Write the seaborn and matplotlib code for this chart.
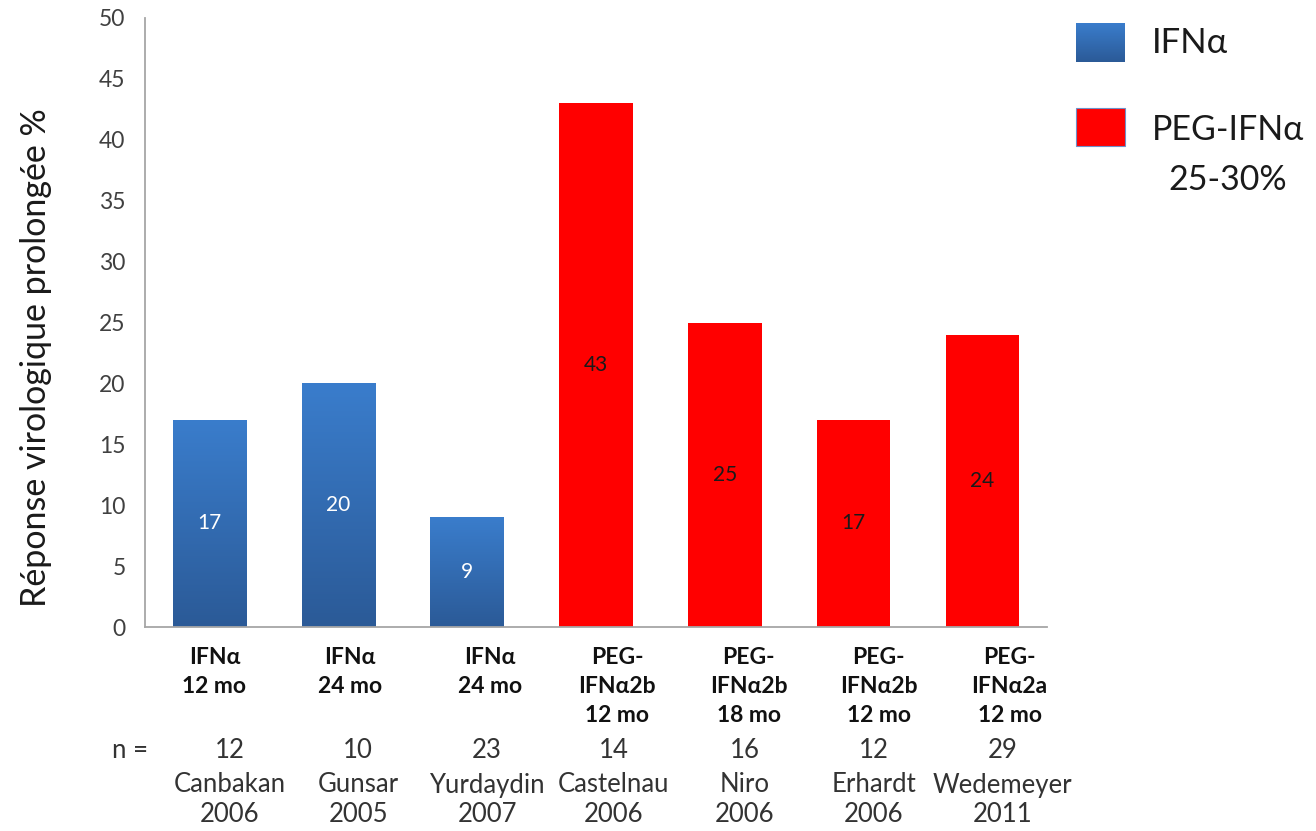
import numpy as np
import pandas as pd
import matplotlib
matplotlib.use("Agg")
import matplotlib.pyplot as plt
from matplotlib.patches import Rectangle
import seaborn as sns

# Study data
treatments = [
    ["IFNα", "12 mo"],
    ["IFNα", "24 mo"],
    ["IFNα", "24 mo"],
    ["PEG-", "IFNα2b", "12 mo"],
    ["PEG-", "IFNα2b", "18 mo"],
    ["PEG-", "IFNα2b", "12 mo"],
    ["PEG-", "IFNα2a", "12 mo"],
]
response = [17, 20, 9, 43, 25, 17, 24]
n_patients = [12, 10, 23, 14, 16, 12, 29]
authors = ["Canbakan", "Gunsar", "Yurdaydin", "Castelnau", "Niro", "Erhardt", "Wedemeyer"]
years = [2006, 2005, 2007, 2006, 2006, 2006, 2011]
groups = ["IFNα", "IFNα", "IFNα", "PEG-IFNα", "PEG-IFNα", "PEG-IFNα", "PEG-IFNα"]
yticks = list(range(0, 55, 5))

df = pd.DataFrame({"study": authors, "response": response, "group": groups})

sns.set_theme(style="white")
plt.rcParams["font.family"] = ["Lato", "DejaVu Sans"]

BLUE_TOP = "#3a7dcc"
BLUE_BOT = "#2b5a97"
RED = "#ff0000"

fig = plt.figure(figsize=(13.16, 8.31), dpi=100)
W, H = 1316, 831
ax = fig.add_axes([145 / W, 1 - 627 / H, (1047 - 145) / W, (627 - 18) / H])

sns.barplot(data=df, x="study", y="response", hue="group",
            palette={"IFNα": BLUE_BOT, "PEG-IFNα": RED},
            dodge=False, width=0.57, legend=False, saturation=1,
            ax=ax, linewidth=0)

ax.set_xlim(-0.5, 6.5)
ax.set_ylim(0, 50)
ax.set_yticks(yticks)
ax.set_yticklabels([str(t) for t in yticks], fontsize=16.5, color="#404040")
ax.tick_params(axis="y", length=0, pad=14)
ax.set_xticks([])
ax.set_xlabel("")
ax.set_ylabel("Réponse virologique prolongée %", fontsize=24.5, color="#1a1a1a")
ax.yaxis.set_label_coords(-(145 - 52) / (1047 - 145), (627 - 358) / (627 - 18))
for side in ["top", "right"]:
    ax.spines[side].set_visible(False)
for side in ["left", "bottom"]:
    ax.spines[side].set_color("#a6a6a6")
    ax.spines[side].set_linewidth(1.3)

# vertical gradient on the IFNα bars
grad = np.linspace(0, 1, 256).reshape(-1, 1)
cmap = matplotlib.colors.LinearSegmentedColormap.from_list("b", [BLUE_BOT, BLUE_TOP])
for patch in ax.patches:
    fc = matplotlib.colors.to_hex(patch.get_facecolor())
    if fc.lower() == BLUE_BOT:
        x0, y0 = patch.get_x(), patch.get_y()
        w, h = patch.get_width(), patch.get_height()
        im = ax.imshow(grad, extent=[x0, x0 + w, y0, y0 + h], origin="lower",
                       cmap=cmap, aspect="auto", zorder=patch.get_zorder() + 0.1)
        im.set_clip_path(patch)
ax.set_xlim(-0.5, 6.5)
ax.set_ylim(0, 50)

# value labels inside bars
for i, v in enumerate(response):
    col = "white" if groups[i] == "IFNα" else "#1a1a1a"
    ax.text(i, v / 2, str(v), ha="center", va="center", fontsize=15, color=col, zorder=5)

# category labels beneath the axis
trans = ax.get_xaxis_transform()
def yfrac(py):
    return -(py - 627) / (627 - 18)

treat_dx = [5, 12, 23, 21, 24, 25, 27]
for i, lines in enumerate(treatments):
    for j, line in enumerate(lines):
        ax.text(i + treat_dx[i] / 129, yfrac(657 + 29.5 * j), line, transform=trans,
                ha="center", va="center", fontsize=16.5, fontweight="bold",
                color="#111111", clip_on=False)

info_dx = [20, 20, 20, 18, 20, 20, 20]
for i in range(len(authors)):
    x = i + info_dx[i] / 129
    ax.text(x, yfrac(751), str(n_patients[i]), transform=trans, ha="center", va="center",
            fontsize=18.5, color="#333333", clip_on=False)
    ax.text(x, yfrac(785), authors[i], transform=trans, ha="center", va="center",
            fontsize=18.5, color="#333333", clip_on=False)
    ax.text(x, yfrac(815), str(years[i]), transform=trans, ha="center", va="center",
            fontsize=18.5, color="#333333", clip_on=False)
fig.text(130 / W, 1 - 751 / H, "n =", ha="center", va="center", fontsize=18.5, color="#333333")

# legend
def legend_box(x0, y0, x1, y1, color, gradient=False):
    shadow = Rectangle((x0 + 2 / W, 1 - (y1 + 4) / H), (x1 - x0) / W, (y1 - y0) / H,
                       transform=fig.transFigure, facecolor="#b0b0b0", edgecolor="none",
                       alpha=0.6)
    fig.add_artist(shadow)
    if gradient:
        lax = fig.add_axes([x0 / W, 1 - y1 / H, (x1 - x0) / W, (y1 - y0) / H])
        lax.imshow(grad, origin="lower", cmap=cmap, aspect="auto", extent=[0, 1, 0, 1])
        lax.set_axis_off()
    else:
        box = Rectangle((x0 / W, 1 - y1 / H), (x1 - x0) / W, (y1 - y0) / H,
                        transform=fig.transFigure, facecolor=color,
                        edgecolor="#6f8fc8", linewidth=0.8)
        fig.add_artist(box)

legend_box(1076, 23, 1125, 62, BLUE_TOP, gradient=True)
legend_box(1076, 108, 1125, 146, RED)
fig.text(1152 / W, 1 - 43 / H, "IFNα", ha="left", va="center", fontsize=25, color="#1a1a1a")
fig.text(1152 / W, 1 - 130 / H, "PEG-IFNα", ha="left", va="center", fontsize=24.5, color="#1a1a1a")
fig.text(1228 / W, 1 - 180 / H, "25-30%", ha="center", va="center", fontsize=24.5, color="#1a1a1a")

fig.savefig("out.png", dpi=100)
